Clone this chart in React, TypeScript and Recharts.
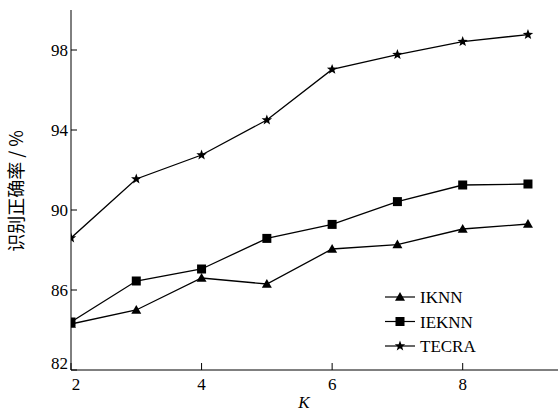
import React from 'react';
import { LineChart, Line, XAxis, YAxis } from 'recharts';

const kValues = [2, 3, 4, 5, 6, 7, 8, 9];
const ikrnn = [84.3, 85.0, 86.6, 86.3, 88.05, 88.27, 89.05, 89.3];
const ieknn = [84.4, 86.45, 87.05, 88.58, 89.28, 90.42, 91.25, 91.3];
const tecra = [88.6, 91.55, 92.75, 94.5, 97.03, 97.77, 98.42, 98.77];
const xTicks = [2, 4, 6, 8];
const yTicks = [82, 86, 90, 94, 98];
const seriesNames = ['IKNN', 'IEKNN', 'TECRA'];

const data = kValues.map((k, i) => ({ k, IKNN: ikrnn[i], IEKNN: ieknn[i], TECRA: tecra[i] }));

const FONT = "'Liberation Serif', 'DejaVu Serif', 'Times New Roman', serif";
const CJK = "'Noto Sans CJK SC', sans-serif";

const triPath = (cx: number, cy: number, s = 5) =>
  `M${cx},${cy - s} L${cx + s},${cy + s * 0.75} L${cx - s},${cy + s * 0.75} Z`;

const starPath = (cx: number, cy: number, R = 5.5, r = 2.3) => {
  let d = '';
  for (let i = 0; i < 10; i++) {
    const rad = i % 2 === 0 ? R : r;
    const a = -Math.PI / 2 + (i * Math.PI) / 5;
    d += (i === 0 ? 'M' : 'L') + (cx + rad * Math.cos(a)).toFixed(2) + ',' + (cy + rad * Math.sin(a)).toFixed(2);
  }
  return d + 'Z';
};

const Marker = ({ type, cx, cy }: { type: string; cx: number; cy: number }) => {
  if (type === 'IKNN') return <path d={triPath(cx, cy)} fill="#000" />;
  if (type === 'IEKNN') return <rect x={cx - 4.5} y={cy - 4.5} width={9} height={9} fill="#000" />;
  return <path d={starPath(cx, cy)} fill="#000" />;
};

const makeDot = (type: string) => (props: any) => {
  const { cx, cy, index } = props;
  if (cx == null || cy == null) return <g key={index} />;
  return <g key={`${type}-${index}`}><Marker type={type} cx={cx} cy={cy} /></g>;
};

const XTick = (props: any) => {
  const { x, y, payload } = props;
  const dx = payload.value === 2 ? 5 : 0;
  return (
    <g>
      <line x1={x} y1={y} x2={x} y2={y - 7} stroke="#000" strokeWidth={1} />
      <text x={x + dx} y={y + 20} textAnchor="middle" fontFamily={FONT} fontSize={17} fill="#000">
        {payload.value}
      </text>
    </g>
  );
};

const YTick = (props: any) => {
  const { x, y, payload } = props;
  const dy = payload.value === 82 ? -7 : 0;
  return (
    <g>
      <line x1={x} y1={y} x2={x + 6} y2={y} stroke="#000" strokeWidth={1} />
      <text x={x - 3} y={y + dy + 6} textAnchor="end" fontFamily={FONT} fontSize={17} fill="#000">
        {payload.value}
      </text>
    </g>
  );
};

const LegendBox = () => (
  <svg width={140} height={70} style={{ position: 'absolute', left: 385, top: 287 }}>
    {seriesNames.map((n, i) => {
      const cy = 10 + i * 24.5;
      return (
        <g key={n}>
          <line x1={0} y1={cy} x2={30} y2={cy} stroke="#000" strokeWidth={1.2} />
          <Marker type={n} cx={15} cy={cy} />
          <text x={35} y={cy + 6} fontFamily={FONT} fontSize={17} fill="#000">{n}</text>
        </g>
      );
    })}
  </svg>
);

export default function App() {
  return (
    <div style={{ position: 'absolute', left: 0, top: 0, width: 558, height: 413, background: '#fff' }}>
      <LineChart width={558} height={413} data={data} margin={{ top: 10, right: 0, bottom: 13, left: 0 }}>
        <XAxis
          dataKey="k"
          type="number"
          domain={[2, 9.46]}
          ticks={xTicks}
          height={30}
          tickSize={0}
          tickMargin={0}
          tickLine={false}
          tick={<XTick />}
          stroke="#000"
          allowDataOverflow
          label={{
            content: () => (
              <text x={304} y={408} textAnchor="middle" fontFamily={FONT} fontStyle="italic" fontSize={17} fill="#000">K</text>
            ),
          }}
        />
        <YAxis
          type="number"
          domain={[82, 100]}
          ticks={yTicks}
          width={71}
          tickSize={0}
          tickMargin={0}
          tickLine={false}
          tick={<YTick />}
          stroke="#000"
          allowDataOverflow
          label={{
            content: () => (
              <text x={0} y={0} transform="translate(23,191) rotate(-90)" textAnchor="middle" fontFamily={CJK} fontSize={18} fill="#000">识别正确率 / %</text>
            ),
          }}
        />
        {seriesNames.map((n) => (
          <Line
            key={n}
            type="linear"
            dataKey={n}
            stroke="#000"
            strokeWidth={1.3}
            dot={makeDot(n)}
            activeDot={false}
            isAnimationActive={false}
            legendType="none"
          />
        ))}
      </LineChart>
      <LegendBox />
    </div>
  );
}
